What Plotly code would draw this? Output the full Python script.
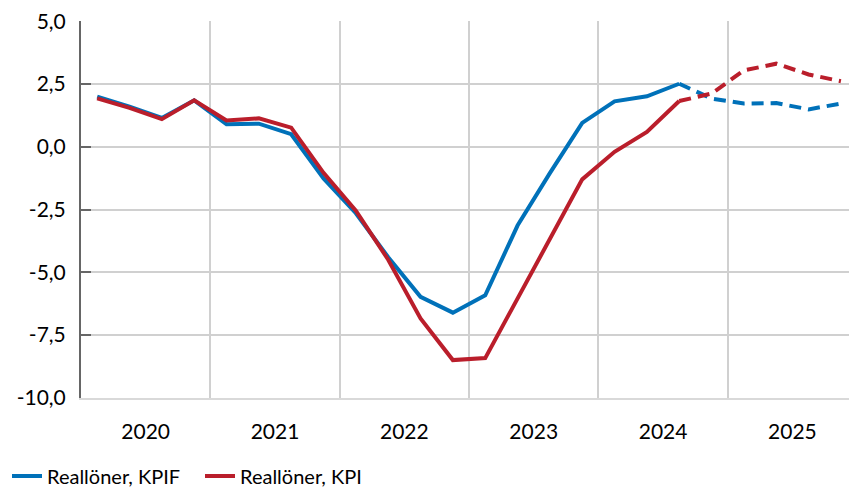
import plotly.graph_objects as go

quarters = [f"{y}Q{q}" for y in range(2020, 2026) for q in range(1, 5)]
year_labels = ["2020", "2021", "2022", "2023", "2024", "2025"]

# Outcome (solid) values, 2020Q1-2024Q3
kpif_outcome = [2.0, 1.6, 1.15, 1.85, 0.9, 0.92, 0.5, -1.26, -2.65, -4.4,
                -5.98, -6.61, -5.92, -3.14, -1.05, 0.95, 1.81, 2.01, 2.51]
kpi_outcome = [1.93, 1.55, 1.1, 1.85, 1.05, 1.13, 0.76, -1.04, -2.55, -4.5,
               -6.84, -8.5, -8.42, -6.05, -3.72, -1.3, -0.2, 0.59, 1.82]
# Forecast (dashed) values, 2024Q3-2025Q4
kpif_forecast = [2.51, 1.92, 1.72, 1.74, 1.49, 1.72]
kpi_forecast = [1.82, 2.12, 3.04, 3.31, 2.88, 2.61]

y_ticks = [5.0, 2.5, 0.0, -2.5, -5.0, -7.5, -10.0]
y_ticktext = ["5,0", "2,5", "0,0", "-2,5", "-5,0", "-7,5", "-10,0"]

BLUE = "#0071B9"
RED = "#BA1E2B"

n_out = len(kpif_outcome)
x_all = [i + 0.5 for i in range(len(quarters))]
x_out = x_all[:n_out]
x_fc = x_all[n_out - 1:n_out - 1 + len(kpif_forecast)]

fig = go.Figure()
fig.add_trace(go.Scatter(x=x_out, y=kpif_outcome, mode="lines", name="Reallöner, KPIF",
                         line=dict(color=BLUE, width=4), legendgroup="kpif"))
fig.add_trace(go.Scatter(x=x_fc, y=kpif_forecast, mode="lines", name="Reallöner, KPIF",
                         line=dict(color=BLUE, width=4, dash="12px,7px"),
                         legendgroup="kpif", showlegend=False))
fig.add_trace(go.Scatter(x=x_out, y=kpi_outcome, mode="lines", name="Reallöner, KPI",
                         line=dict(color=RED, width=4), legendgroup="kpi"))
fig.add_trace(go.Scatter(x=x_fc, y=kpi_forecast, mode="lines", name="Reallöner, KPI",
                         line=dict(color=RED, width=4, dash="12px,7px"),
                         legendgroup="kpi", showlegend=False))

fig.update_layout(
    width=849, height=487,
    margin=dict(l=81, r=0, t=21, b=89, autoexpand=False),
    paper_bgcolor="white", plot_bgcolor="white",
    font=dict(family="Lato, Open Sans, sans-serif", size=21, color="#000000"),
    showlegend=True,
    legend=dict(orientation="h", xref="container", yref="paper",
                x=7 / 849, y=-0.207, xanchor="left", yanchor="middle",
                font=dict(size=20), entrywidth=148, entrywidthmode="pixels",
                tracegroupgap=0, bgcolor="rgba(0,0,0,0)"),
)
fig.update_xaxes(
    range=[0, 23.75],
    tickmode="array",
    tickvals=[4 * i + 2 for i in range(len(year_labels))],
    ticktext=year_labels,
    showgrid=False,
    ticks="",
    ticklabelstandoff=14,
    automargin=False,
    showline=True, linecolor="#D9D9D9", linewidth=2,
    minor=dict(tickmode="linear", tick0=0, dtick=4, showgrid=True,
               gridcolor="#D0D0D0", gridwidth=1.5),
    zeroline=False,
)
fig.update_yaxes(
    range=[-10.01, 5.01],
    tickmode="array",
    tickvals=y_ticks,
    ticktext=y_ticktext,
    showgrid=True, gridcolor="#D0D0D0", gridwidth=1.5,
    showline=True, linecolor="#666666", linewidth=2,
    ticks="inside", ticklen=10, tickwidth=2, tickcolor="#666666",
    ticklabelstandoff=9,
    automargin=False,
    zeroline=False,
)

# Remove the browser's default 8px body margin so the figure fills the window.
fig.write_html("out.html", config={"displayModeBar": False},
               post_script="document.body.style.margin='0';")
